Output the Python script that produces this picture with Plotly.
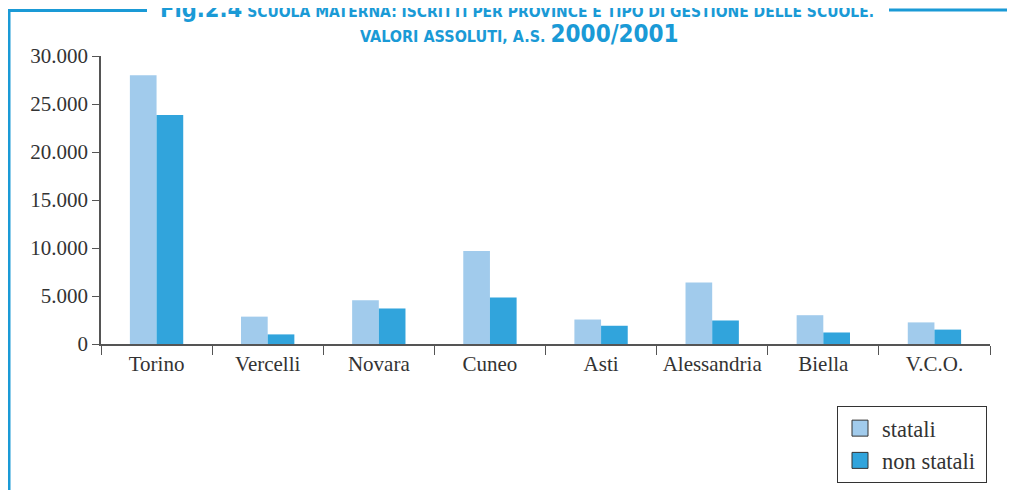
import plotly.graph_objects as go

# Dati: iscritti scuola materna per provincia, a.s. 2000/2001
province = ['Torino', 'Vercelli', 'Novara', 'Cuneo', 'Asti', 'Alessandria', 'Biella', 'V.C.O.']
statali = [28000, 2850, 4550, 9700, 2550, 6400, 3000, 2250]
non_statali = [23850, 1000, 3700, 4850, 1900, 2450, 1200, 1500]
y_ticks = [0, 5000, 10000, 15000, 20000, 25000, 30000]

col_stat = '#a1cbec'
col_non = '#31a4dc'
blue = '#1a9ad6'
serif = 'Liberation Serif, Times New Roman, serif'

fig = go.Figure()
fig.add_trace(go.Bar(x=province, y=statali, name='statali', marker=dict(color=col_stat, line=dict(width=0)),
                     showlegend=False))
fig.add_trace(go.Bar(x=province, y=non_statali, name='non statali', marker=dict(color=col_non, line=dict(width=0)),
                     showlegend=False))
# voci di legenda: quadratini con bordo scuro
for nm, c in [('statali', col_stat), ('non statali&nbsp;', col_non)]:
    fig.add_trace(go.Scatter(x=[None], y=[None], name=nm, mode='markers',
                             marker=dict(symbol='square', size=16, color=c, line=dict(color='#333', width=1))))

# la pagina ha 8px di margine nel body: la figura è più piccola di 8px
OFF = 8
L, T = 101, 56          # bordo sinistro / alto dell'area del grafico nella finestra
W, H = 889, 288
px = lambda v: (v - L) / W
py = lambda v: (T + H - v) / H
shapes = [
    dict(type='line', xref='paper', yref='paper', x0=px(9), x1=px(9), y0=py(9.5), y1=py(495),
         line=dict(color=blue, width=3)),
    dict(type='line', xref='paper', yref='paper', x0=px(7.5), x1=px(147), y0=py(10.5), y1=py(10.5),
         line=dict(color=blue, width=3)),
    dict(type='line', xref='paper', yref='paper', x0=px(889), x1=px(1020), y0=py(10), y1=py(10),
         line=dict(color=blue, width=3)),
]
title_font = 'DejaVu Sans Condensed, Arial Narrow, sans-serif'
annotations = [
    dict(xref='paper', yref='paper', x=px(517), y=py(9), xanchor='center', yanchor='middle', showarrow=False,
         text="<b><span style='font-size:23.5px'>Fig.2.4</span> SCUOLA MATERNA: ISCRITTI PER PROVINCE E TIPO DI GESTIONE DELLE SCUOLE.</b>",
         font=dict(family=title_font, size=15.5, color=blue)),
    dict(xref='paper', yref='paper', x=px(519), y=py(33.5), xanchor='center', yanchor='middle', showarrow=False,
         text="<b>VALORI ASSOLUTI, A.S. <span style='font-size:24px'>2000/2001</span></b>",
         font=dict(family=title_font, size=16, color=blue)),
]

fig.update_layout(
    width=1015 - OFF, height=490 - OFF,
    margin=dict(l=L - OFF, r=1015 - L - W, t=T - OFF, b=490 - T - H, autoexpand=False),
    paper_bgcolor='white', plot_bgcolor='white',
    barmode='group', bargap=0.52, bargroupgap=0,
    separators=',.',
    font=dict(family=serif, size=21, color='#333'),
    shapes=shapes, annotations=annotations,
    legend=dict(x=px(837), y=py(406), xanchor='left', yanchor='top',
                bordercolor='#333', borderwidth=1, bgcolor='white',
                font=dict(family=serif, size=22.5, color='#333'),
                itemwidth=34, traceorder='normal'),
    xaxis=dict(showline=True, linecolor='#555', linewidth=1.5, ticks='outside', tickson='boundaries',
               ticklen=9, tickcolor='#555', showgrid=False, tickfont=dict(size=21), automargin=False),
    yaxis=dict(range=[0, 30000], tickvals=y_ticks, tickformat=',d', showline=True, linecolor='#555',
               linewidth=1.5, ticks='outside', ticklen=7, tickcolor='#555', showgrid=False, zeroline=False,
               tickfont=dict(size=21), automargin=False),
)

fig.write_html('out.html')
